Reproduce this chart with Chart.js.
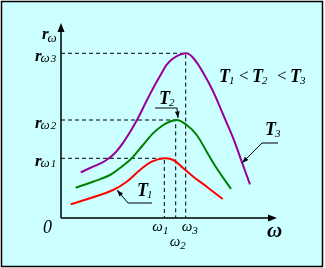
<!DOCTYPE html>
<html>
<head>
<meta charset="utf-8">
<script src="https://cdn.jsdelivr.net/npm/chart.js@4"></script>
<style>
  html, body { margin: 0; padding: 0; background: #ffffff; }
  canvas { display: block; }
</style>
</head>
<body>
<canvas id="chart" width="325" height="268"></canvas>
<script>
// curves (x = omega, y = r_omega, arbitrary units)
const t1X = [9.7, 32, 52, 65.7, 79, 90.7, 103.3, 112.3, 122.3, 132.3, 145.7, 161.7];
const t1Y = [13.7, 20.7, 28, 36.3, 48, 56.3, 59.7, 58, 49.7, 41.3, 31.3, 19];
const t2X = [14.7, 32, 49, 60.7, 70.7, 82, 95.7, 114.7, 125.7, 135.7, 145.7, 155.7, 170];
const t2Y = [30.3, 36.3, 43, 51.3, 59.7, 73, 88, 98, 93, 83, 66.3, 49.7, 29];
const t3X = [19.7, 32, 44, 54, 64, 76, 87, 99, 109, 124.7, 132.3, 142.3, 152.3, 162.3, 172.3, 180.7, 189];
const t3Y = [45.7, 51.3, 57, 65, 78, 98, 120, 142, 157, 164.7, 160, 145, 126.3, 103, 79.7, 56.3, 33.7];

// peak positions (dashed guides)
const peakX = [103.3, 114.7, 124.7];
const peakY = [59.7, 98, 164.7];
const subs = ['1', '2', '3'];

const colors = ['#ff0000', '#008000', '#990099'];

function pts(xs, ys) {
    return xs.map((x, i) => ({ x: x, y: ys[i] }));
}

const datasets = [];
peakX.forEach((px, i) => {
    datasets.push({
        data: [{ x: 0, y: peakY[i] }, { x: px, y: peakY[i] }, { x: px, y: 0 }],
        borderColor: '#000', borderWidth: 1, borderDash: [4, 3],
        pointRadius: 0, tension: 0, order: 2
    });
});
[[t1X, t1Y], [t2X, t2Y], [t3X, t3Y]].forEach(([xs, ys], i) => {
    datasets.push({
        data: pts(xs, ys),
        borderColor: colors[i], borderWidth: 2,
        pointRadius: 0, tension: 0.4, order: 1
    });
});

function rich(ctx, x, y, parts) {
    parts.forEach(p => {
        ctx.font = p.f;
        ctx.fillText(p.t, x + (p.dx || 0), y + (p.dy || 0));
        x += ctx.measureText(p.t).width + (p.dx || 0);
    });
}

const SERIF = '"Liberation Serif"';
const RF = 'bold italic 17px ' + SERIF;
const TF = 'bold italic 18px ' + SERIF;
const WF = 'italic 13px ' + SERIF;
const SUB = 'italic 11px ' + SERIF;

const decor = {
    id: 'decor',
    beforeDraw(chart) {
        const ctx = chart.ctx;
        ctx.save();
        ctx.fillStyle = '#ccffff';
        ctx.fillRect(1, 1, 322, 266);
        ctx.strokeStyle = '#000';
        ctx.lineWidth = 1.5;
        ctx.strokeRect(1.5, 1.5, 321, 265);
        ctx.restore();
    },
    afterDraw(chart) {
        const ctx = chart.ctx;
        const xs = chart.scales.x, ys = chart.scales.y;
        const X = v => xs.getPixelForValue(v), Y = v => ys.getPixelForValue(v);
        const ox = X(0), oy = Y(0);
        ctx.save();
        ctx.strokeStyle = '#000';
        ctx.fillStyle = '#000';
        ctx.lineWidth = 1.5;
        // axes
        ctx.beginPath();
        ctx.moveTo(ox, oy); ctx.lineTo(ox, Y(192));
        ctx.moveTo(ox, oy); ctx.lineTo(X(212), oy);
        ctx.stroke();
        ctx.beginPath();
        ctx.moveTo(ox, Y(195)); ctx.lineTo(ox - 3.5, Y(186)); ctx.lineTo(ox + 3.5, Y(186)); ctx.closePath();
        ctx.moveTo(X(216), oy); ctx.lineTo(X(207), oy - 3.5); ctx.lineTo(X(207), oy + 3.5); ctx.closePath();
        ctx.fill();

        ctx.textBaseline = 'alphabetic';
        // y labels
        rich(ctx, 42, 39, [{ t: 'r', f: RF }, { t: 'ω', f: WF, dy: 3, dx: -1 }]);
        peakY.forEach((v, i) => {
            rich(ctx, 35, Y(v) + 8, [{ t: 'r', f: RF }, { t: 'ω', f: WF, dy: 1, dx: -1 }, { t: subs[i], f: SUB, dy: 1, dx: 1 }]);
        });
        // origin and x label
        ctx.font = 'italic 18px ' + SERIF;
        ctx.fillText('0', 43, 233);
        ctx.font = 'bold italic 21px ' + SERIF;
        ctx.fillText('ω', 267, 237);
        // omega ticks
        const tickDy = [13, 28, 13];
        const tickDx = [-12, -6, -4];
        peakX.forEach((v, i) => {
            rich(ctx, X(v) + tickDx[i], oy + tickDy[i], [{ t: 'ω', f: 'italic 15px ' + SERIF }, { t: subs[i], f: SUB, dy: 3 }]);
        });
        // T1 < T2 < T3
        const tPos = [219, 252, 290];
        const ltPos = [239, 277];
        subs.forEach((s, i) => {
            rich(ctx, tPos[i], 82, [{ t: 'T', f: TF }, { t: s, f: SUB, dy: 2, dx: -1 }]);
        });
        ctx.font = '17px ' + SERIF;
        ltPos.forEach(x => ctx.fillText('<', x, 81));
        // curve tags with leader lines
        const tags = [
            { s: '1', tx: 137, ty: 196, ul: [128, 152, 203], tip: [117, 190] },
            { s: '2', tx: 159, ty: 104, ul: [155, 177, 108], tip: [178, 118] },
            { s: '3', tx: 265, ty: 135, ul: [262, 278, 143], tip: [242, 163] }
        ];
        tags.forEach(tg => {
            rich(ctx, tg.tx, tg.ty, [{ t: 'T', f: TF }, { t: tg.s, f: SUB, dy: 2, dx: -1 }]);
            const startX = tg.s === '2' ? tg.ul[1] : tg.ul[0];
            ctx.lineWidth = 1;
            ctx.beginPath();
            ctx.moveTo(tg.s === '2' ? tg.ul[0] : tg.ul[1], tg.ul[2]);
            ctx.lineTo(startX, tg.ul[2]);
            ctx.lineTo(tg.tip[0], tg.tip[1]);
            ctx.stroke();
            const a = Math.atan2(tg.tip[1] - tg.ul[2], tg.tip[0] - startX);
            ctx.beginPath();
            ctx.moveTo(tg.tip[0], tg.tip[1]);
            ctx.lineTo(tg.tip[0] - 7 * Math.cos(a - 0.35), tg.tip[1] - 7 * Math.sin(a - 0.35));
            ctx.lineTo(tg.tip[0] - 7 * Math.cos(a + 0.35), tg.tip[1] - 7 * Math.sin(a + 0.35));
            ctx.closePath();
            ctx.fill();
        });
        ctx.restore();
    }
};

new Chart(document.getElementById('chart'), {
    type: 'line',
    data: { datasets: datasets },
    options: {
        responsive: false,
        animation: false,
        devicePixelRatio: 1,
        layout: { padding: { left: 61, right: 48, top: 23, bottom: 50 } },
        elements: { line: { tension: 0.4, capBezierPoints: false } },
        scales: {
            x: { type: 'linear', display: false, min: 0, max: 216 },
            y: { type: 'linear', display: false, min: 0, max: 195 }
        },
        plugins: { legend: { display: false }, tooltip: { enabled: false } }
    },
    plugins: [decor]
});
</script>
</body>
</html>
